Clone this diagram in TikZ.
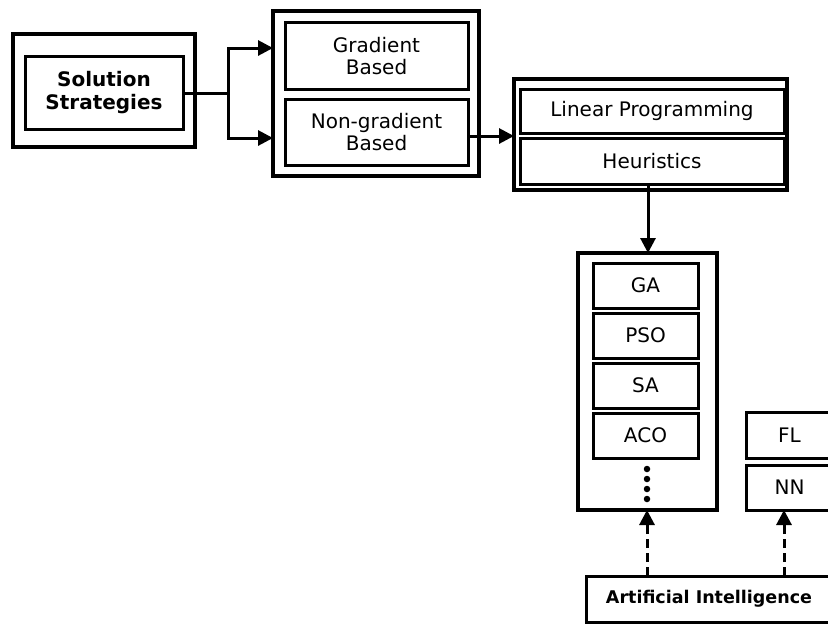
\documentclass[tikz,border=0pt]{standalone}
\usepackage{fontspec}
\setmainfont{DejaVu Sans}
\usetikzlibrary{arrows.meta}
\begin{document}
\begin{tikzpicture}[x=1pt,y=-1pt,
  box/.style={draw,line width=3pt,inner sep=0pt,outer sep=0pt,align=center,font=\fontsize{20}{22.5}\selectfont},
  outerbox/.style={draw,line width=3.2pt,inner sep=0pt,outer sep=0pt},
  arr/.style={line width=3pt,-{Triangle[length=15pt,width=15pt]}},
  darr/.style={line width=3pt,dash pattern=on 9pt off 5pt,-{Triangle[length=15pt,width=15pt]}},
  dotc/.style={fill,circle,inner sep=0pt,minimum size=6.5pt}]
\useasboundingbox (0,0) rectangle (828,625);
\clip (0,0) rectangle (828,625);
% box 1
\node[outerbox,minimum width=182pt,minimum height=113pt] (b1) at (104,90.5) {};
\node[box,minimum width=158pt,minimum height=73pt,font=\bfseries\fontsize{20}{23}\selectfont] (ss) at (104,93) {Solution\\Strategies};
% box 2
\node[outerbox,minimum width=206pt,minimum height=165pt] (b2) at (376,93.5) {};
\node[box,minimum width=183pt,minimum height=67pt] (gb) at (376.5,56) {Gradient\\Based};
\node[box,minimum width=183pt,minimum height=66pt] (ng) at (376.5,132) {Non-gradient\\Based};
% box 3
\node[outerbox,minimum width=273pt,minimum height=111pt] (b3) at (650.5,134.5) {};
\node[box,minimum width=264pt,minimum height=44pt] (lp) at (652,111) {Linear Programming};
\node[box,minimum width=264pt,minimum height=46pt] (he) at (652,161) {Heuristics};
% box 4
\node[outerbox,minimum width=139pt,minimum height=257pt] (b4) at (647.5,381.5) {};
\node[box,minimum width=105pt,minimum height=45pt] (ga) at (645.5,285.5) {GA};
\node[box,minimum width=105pt,minimum height=45pt] (pso) at (645.5,335.5) {PSO};
\node[box,minimum width=105pt,minimum height=45pt] (sa) at (645.5,385.5) {SA};
\node[box,minimum width=105pt,minimum height=45pt] (aco) at (645.5,435.5) {ACO};
\node[dotc] (d1) at (647,469) {};
\node[dotc] (d2) at (647,479) {};
\node[dotc] (d3) at (647,489) {};
\node[dotc] (d4) at (647,499) {};
% FL / NN
\node[box,minimum width=87pt,minimum height=46pt] (fl) at (789.5,435) {FL};
\node[box,minimum width=87pt,minimum height=45pt] (nn) at (789.5,487.5) {NN};
% AI
\node[box,minimum width=246pt,minimum height=46pt,font=\bfseries\fontsize{17.5}{20}\selectfont] (ai) at (709,599) {Artificial Intelligence};
% connectors
\coordinate (br) at (228,93);
\draw[line width=3pt] (ss.east |- br) -- (br);
\draw[arr] (br) -- (228,48) -- (b2.west |- 0,48);
\draw[arr] (br) -- (228,138) -- (b2.west |- 0,138);
\draw[arr] (ng.east |- 0,136) -- (b3.west |- 0,136);
\draw[arr] (he.south -| 648,0) -- (b4.north -| 648,0);
\draw[darr] (ai.north -| 647,0) -- (b4.south -| 647,0);
\draw[darr] (ai.north -| 784,0) -- (nn.south -| 784,0);
\end{tikzpicture}
\end{document}
